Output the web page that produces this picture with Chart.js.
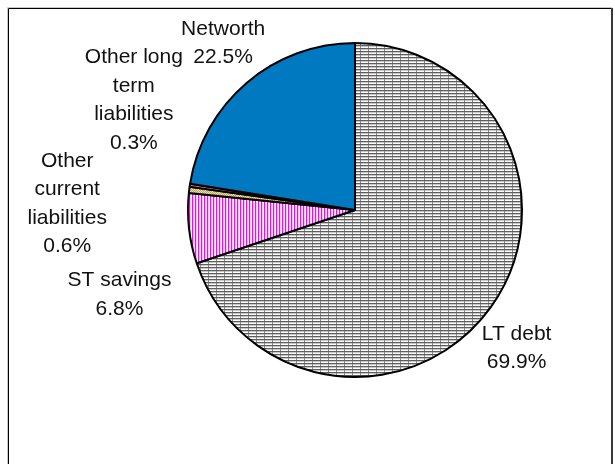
<!DOCTYPE html>
<html>
<head>
<meta charset="utf-8">
<script src="https://cdn.jsdelivr.net/npm/chart.js@4.4.1/dist/chart.umd.min.js"></script>
<style>
  html, body { margin: 0; padding: 0; background: #fff; }
  #chart { display: block; }
</style>
</head>
<body>
<canvas id="chart" width="615" height="464"></canvas>
<script>
/* =======================
   DATA
======================= */
const categories = ['LT debt', 'ST savings', 'Other current liabilities', 'Other long term liabilities', 'Networth'];
const values = [69.9, 6.8, 0.6, 0.3, 22.5];
// how each category name is broken into lines on the chart
const labelLines = [['LT debt'], ['ST savings'], ['Other', 'current', 'liabilities'], ['Other long', 'term', 'liabilities'], ['Networth']];

// label offsets from slice midpoint on the rim (layout only)
const labelOffsets = [[26, 41], [-69.5, 66], [-122, 14], [-56, -85], [-23.5, -39.5]];

/* =======================
   PATTERNS
======================= */
function makePattern(w, h, draw) {
  const c = document.createElement('canvas');
  c.width = w; c.height = h;
  const g = c.getContext('2d');
  g.fillStyle = '#fff';
  g.fillRect(0, 0, w, h);
  draw(g);
  return g.createPattern(c, 'repeat');
}

const ctx = document.getElementById('chart').getContext('2d');

// narrow horizontal lines (LT debt)
const hLines = makePattern(8, 3, g => {
  g.fillStyle = '#5e5e5e'; g.fillRect(0, 0, 8, 1);
  g.fillStyle = '#c8c8c8'; g.fillRect(0, 1, 8, 1);
  g.fillStyle = '#888888'; g.fillRect(0, 1, 1, 2);
});
// vertical magenta stripes (ST savings)
const vLines = makePattern(3, 1, g => {
  g.fillStyle = '#ff00ff'; g.fillRect(0, 0, 1, 1);
  g.fillStyle = '#ffb8ff'; g.fillRect(1, 0, 1, 1);
});
// khaki checks (Other current liabilities)
const khaki = makePattern(2, 2, g => {
  g.fillStyle = '#b8a860'; g.fillRect(0, 0, 1, 1); g.fillRect(1, 1, 1, 1);
  g.fillStyle = '#e8e0b0'; g.fillRect(1, 0, 1, 1); g.fillRect(0, 1, 1, 1);
});

const sliceColors = [hLines, vLines, khaki, '#ff8080', '#0079c1'];

/* =======================
   PLUGINS
======================= */
const framePlugin = {
  id: 'frame',
  beforeDraw(chart) {
    const c = chart.ctx;
    c.save();
    c.fillStyle = '#fff';
    c.fillRect(0, 0, chart.width, chart.height);
    c.lineWidth = 1;
    c.strokeStyle = '#c8c8c8';
    c.beginPath();
    c.moveTo(7.5, chart.height); c.lineTo(7.5, 7.5); c.lineTo(612, 7.5);
    c.stroke();
    c.strokeStyle = '#000';
    c.beginPath();
    c.moveTo(8.5, chart.height); c.lineTo(8.5, 8.5); c.lineTo(611.5, 8.5);
    c.stroke();
    c.strokeStyle = '#3a3a3a';
    c.lineWidth = 2;
    c.beginPath();
    c.moveTo(612, 8); c.lineTo(612, chart.height);
    c.stroke();
    c.restore();
  }
};

const labelPlugin = {
  id: 'outsideLabels',
  afterDatasetsDraw(chart) {
    const c = chart.ctx;
    const arcs = chart.getDatasetMeta(0).data;
    c.save();
    c.font = '21px "Liberation Sans", Arial, sans-serif';
    c.fillStyle = '#111';
    c.textAlign = 'center';
    c.textBaseline = 'middle';
    const lh = 28.5;
    arcs.forEach((arc, i) => {
      const p = arc.getProps(['x', 'y', 'startAngle', 'endAngle', 'outerRadius'], true);
      const mid = (p.startAngle + p.endAngle) / 2;
      const cx = p.x + Math.cos(mid) * p.outerRadius + labelOffsets[i][0];
      const cy = p.y + Math.sin(mid) * p.outerRadius + labelOffsets[i][1];
      const lines = labelLines[i].concat([values[i].toFixed(1) + '%']);
      const y0 = cy - (lines.length - 1) * lh / 2;
      lines.forEach((t, k) => c.fillText(t, cx, y0 + k * lh));
    });
    c.restore();
  }
};

/* =======================
   CHART
======================= */
new Chart(ctx, {
  type: 'pie',
  data: {
    labels: categories,
    datasets: [{
      data: values,
      backgroundColor: sliceColors,
      borderColor: '#000',
      borderWidth: 2,
      borderAlign: 'center'
    }]
  },
  options: {
    responsive: false,
    animation: false,
    layout: { padding: { left: 187, right: 92, top: 42, bottom: 86 } },
    plugins: {
      legend: { display: false },
      tooltip: { enabled: false }
    }
  },
  plugins: [framePlugin, labelPlugin]
});
</script>
</body>
</html>
